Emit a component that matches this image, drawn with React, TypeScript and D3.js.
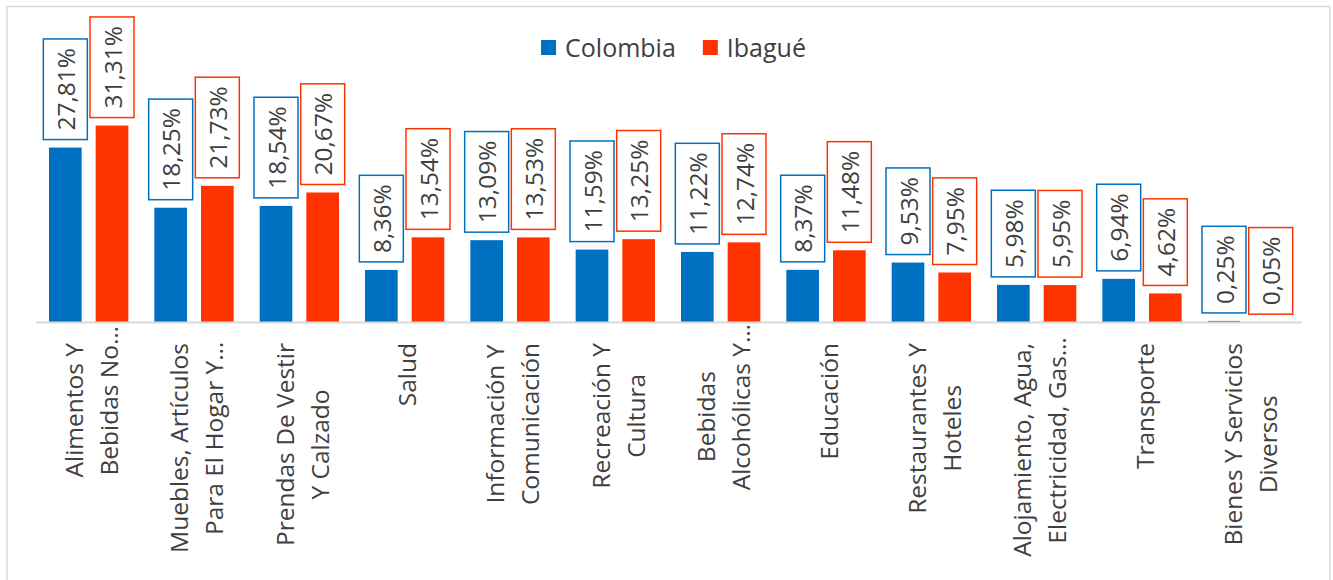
import React, {useMemo} from "react"
import * as d3 from "d3"

const categories = [
    "Alimentos Y\nBebidas No…",
    "Muebles, Artículos\nPara El Hogar Y…",
    "Prendas De Vestir\nY Calzado",
    "Salud",
    "Información Y\nComunicación",
    "Recreación Y\nCultura",
    "Bebidas\nAlcohólicas Y…",
    "Educación",
    "Restaurantes Y\nHoteles",
    "Alojamiento, Agua,\nElectricidad, Gas…",
    "Transporte",
    "Bienes Y Servicios\nDiversos",
]
const seriesNames = ["Colombia", "Ibagué"]
const colombia = [27.81, 18.25, 18.54, 8.36, 13.09, 11.59, 11.22, 8.37, 9.53, 5.98, 6.94, 0.25]
const ibague = [31.31, 21.73, 20.67, 13.54, 13.53, 13.25, 12.74, 11.48, 7.95, 5.95, 4.62, 0.05]
const colors = ["#0070C0", "#FF3300"]

const W = 1333
const H = 580
const FONT = "'Open Sans', 'Segoe UI', sans-serif"
const FS = 24.5
const TEXT = "#404040"

const fmt = (v: number) => v.toFixed(2).replace(".", ",") + "%"

const App = () => {
    const measure = useMemo(() => {
        const ctx = document.createElement("canvas").getContext("2d")!
        return (s: string, size = FS) => {
            ctx.font = `${size}px 'Open Sans'`
            return ctx.measureText(s).width
        }
    }, [])

    const baseY = 322.5
    const x0 = d3.scaleBand<number>()
        .domain(d3.range(categories.length))
        .range([36, 1300])
    const x1 = d3.scaleBand<number>()
        .domain([0, 1])
        .range([13, x0.bandwidth() - 13])
        .paddingInner(0.3)
    const y = d3.scaleLinear().domain([0, 35]).range([baseY, baseY - 35 * 6.29])

    const series = [colombia, ibague]

    // legend layout
    const legendSizes = seriesNames.map(n => measure(n, 25))
    const legendTotal = legendSizes.reduce((a, w) => a + 15 + 9 + w, 0) + 27
    let lx = 673.5 - legendTotal / 2

    return (
        <svg width={W} height={H} style={{position: "absolute", left: 0, top: 0, background: "#fff"}}
             fontFamily={FONT}>
            <rect x={7} y={6.5} width={1323} height={600} fill="#fff" stroke="#d9d9d9" strokeWidth={1.5}/>

            {/* bars */}
            {series.map((vals, s) => (
                <g key={s}>
                    {vals.map((v, i) => (
                        <rect key={i}
                              x={x0(i)! + x1(s)!}
                              y={y(v)}
                              width={x1.bandwidth()}
                              height={baseY - y(v)}
                              fill={colors[s]}/>
                    ))}
                </g>
            ))}

            <line x1={36} x2={1302} y1={baseY} y2={baseY} stroke="#d9d9d9" strokeWidth={2}/>

            {/* data labels */}
            {series.map((vals, s) => (
                <g key={s}>
                    {vals.map((v, i) => {
                        const t = fmt(v)
                        const w = measure(t)
                        const h = w + 18
                        const cx = x0(i)! + x1(s)! + x1.bandwidth() / 2
                        const bottom = y(v) - 8
                        const cy = bottom - h / 2
                        return (
                            <g key={i}>
                                <rect x={cx - 22} y={bottom - h} width={44} height={h}
                                      fill="#fff" stroke={colors[s]} strokeWidth={1.5}/>
                                <text transform={`translate(${cx},${cy}) rotate(-90)`}
                                      textAnchor="middle" dominantBaseline="central"
                                      fontSize={FS} fill={TEXT}>{t}</text>
                            </g>
                        )
                    })}
                </g>
            ))}

            {/* category labels */}
            {categories.map((c, i) => {
                const lines = c.split("\n")
                const widths = lines.map(l => measure(l.replace("…", "")))
                const block = d3.max(widths)!
                const top = 343
                const center = x0(i)! + x0.bandwidth() / 2
                return (
                    <g key={i}>
                        {lines.map((l, k) => {
                            const bx = center + 11.75 + (k - (lines.length - 1) / 2) * 35
                            return (
                                <text key={k}
                                      transform={`translate(${bx},${top + block / 2}) rotate(-90)`}
                                      x={-widths[k] / 2}
                                      textAnchor="start"
                                      fontSize={FS} fill={TEXT}>{l}</text>
                            )
                        })}
                    </g>
                )
            })}

            {/* legend */}
            {seriesNames.map((n, s) => {
                const sx = lx
                lx += 15 + 9 + legendSizes[s] + 27
                return (
                    <g key={n}>
                        <rect x={sx} y={40} width={15} height={15} fill={colors[s]}/>
                        <text x={sx + 24} y={57} fontSize={25} fill={TEXT}>{n}</text>
                    </g>
                )
            })}
        </svg>
    )
}

export default App
